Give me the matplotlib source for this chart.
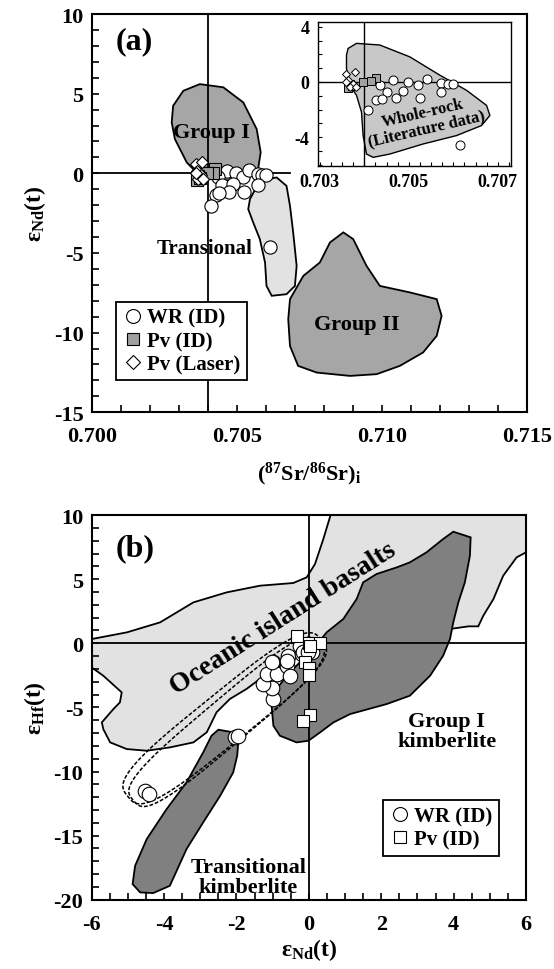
import numpy as np
import matplotlib
matplotlib.use("Agg")
import matplotlib.pyplot as plt
from matplotlib.lines import Line2D
from matplotlib.ticker import MultipleLocator, FormatStrFormatter

plt.rcParams['font.family'] = ['Liberation Serif', 'DejaVu Serif']
plt.rcParams['font.weight'] = 'bold'
plt.rcParams['axes.unicode_minus'] = False
plt.rcParams['mathtext.fontset'] = 'custom'
plt.rcParams['mathtext.rm'] = 'Liberation Serif:bold'
plt.rcParams['mathtext.it'] = 'Liberation Serif:bold'
plt.rcParams['mathtext.bf'] = 'Liberation Serif:bold'

# -----------------------------
# Panel (a): Sr-Nd data
# -----------------------------
sr_wr = [0.70465, 0.70498, 0.70521, 0.70540, 0.70573, 0.70588, 0.70600, 0.70435, 0.70450,
         0.70487, 0.70573, 0.70471, 0.70524, 0.70427, 0.70439, 0.70409, 0.70615]
nd_wr = [0.12, 0.00, -0.24, 0.20, -0.07, -0.12, -0.12, -0.24, -0.73,
         -0.68, -0.73, -1.17, -1.15, -1.34, -1.22, -2.07, -4.60]
sr_pv = [0.70426, 0.70416, 0.70397, 0.70367, 0.70364, 0.70372]
nd_pv = [0.27, 0.05, 0.00, -0.15, -0.45, -0.30]
sr_laser = [0.70360, 0.70378, 0.70364, 0.70375, 0.70367, 0.70382, 0.70360]
nd_laser = [0.61, 0.73, 0.12, -0.12, -0.37, -0.37, 0.00]

# field outlines (a)
grp1_sr = [0.70280, 0.70315, 0.70372, 0.70453, 0.70522, 0.70568, 0.70582, 0.70573, 0.70533,
           0.70453, 0.70372, 0.70327, 0.70286, 0.70275]
grp1_nd = [4.24, 5.18, 5.60, 5.40, 4.45, 2.78, 1.32, 0.28, -0.36, -0.47, -0.16, 0.68, 2.15, 3.20]
trans_sr = [0.70545, 0.70579, 0.70637, 0.70671, 0.70683, 0.70694, 0.70706, 0.70700, 0.70671,
            0.70620, 0.70602, 0.70597, 0.70579, 0.70556, 0.70539]
trans_nd = [-1.62, -0.47, -0.26, -0.79, -2.04, -3.71, -5.81, -7.07, -7.59, -7.69, -7.07, -5.60,
            -4.13, -3.08, -2.25]
grp2_sr = [0.70683, 0.70729, 0.70786, 0.70821, 0.70867, 0.70901, 0.70947, 0.70993, 0.71097,
           0.71189, 0.71206, 0.71189, 0.71142, 0.71062, 0.70982, 0.70890, 0.70775, 0.70711,
           0.70683, 0.70677]
grp2_nd = [-7.90, -6.44, -5.60, -4.34, -3.71, -4.13, -5.81, -7.07, -7.48, -7.90, -8.95, -10.21,
           -11.25, -12.09, -12.61, -12.72, -12.51, -12.09, -10.84, -9.16]
wrlit_sr = [0.703636, 0.703825, 0.704348, 0.705022, 0.705697, 0.706297, 0.706746, 0.706820,
            0.706634, 0.706072, 0.705321, 0.704573, 0.704198, 0.704049, 0.703973, 0.703937,
            0.703825, 0.703674, 0.703600, 0.703600]
wrlit_nd = [2.43, 2.80, 2.68, 1.82, 0.49, -0.61, -1.70, -2.43, -3.16, -3.89, -4.50, -5.23, -5.47,
            -5.23, -3.89, -2.19, -0.97, -0.24, 0.97, 1.95]

# -----------------------------
# Panel (b): Nd-Hf data
# -----------------------------
nd_wr_b = [-4.53, -4.43, -2.04, -1.95, -0.98, -1.03, -1.26, -1.17, -0.98, -0.89, -0.61, -0.52,
           -0.57, -0.24, -0.20, -0.15, 0.08, -0.01, -1.03, -0.61]
hf_wr_b = [-11.50, -11.76, -7.33, -7.20, -4.35, -3.50, -3.18, -2.40, -1.49, -2.39, -1.75, -2.53,
           -0.97, -0.19, -0.83, -0.71, -0.71, -0.70, -1.48, -1.36]
nd_pv_b = [-0.32, 0.01, 0.31, -0.11, 0.01, 0.01, 0.03, -0.15, 0.03]
hf_pv_b = [0.59, 0.02, 0.02, -1.48, -1.95, -2.45, -5.60, -6.05, -0.19]

oib_nd = [-6.00, -5.03, -4.11, -3.19, -2.27, -1.35, -0.43, -0.06, 0.17, 0.40, 0.60, 6.00, 6.00,
          5.74, 5.37, 5.10, 4.82, 4.68, 4.41, 3.25, 1.41, 0.12, -0.25, -0.52, -0.80, -1.35,
          -1.72, -2.18, -2.55, -2.82, -3.19, -3.84, -4.48, -5.03, -5.49, -5.68, -5.72, -5.40,
          -5.22, -5.17, -5.68, -6.00]
oib_hf = [0.33, 0.85, 1.63, 3.19, 3.97, 4.49, 4.70, 5.14, 6.18, 8.13, 10.00, 10.00, 7.09,
          6.70, 5.27, 3.45, 2.15, 1.32, 1.32, 0.85, 0.33, 0.02, -0.45, -1.10, -1.75, -2.78,
          -3.56, -4.34, -5.38, -6.94, -7.73, -8.12, -8.38, -8.25, -7.73, -6.69, -6.17, -5.13,
          -4.61, -3.83, -2.53, -1.88]
gk_nd = [-1.03, -0.98, -0.80, -0.34, -0.01, 0.31, 0.68, 1.14, 2.15, 2.79, 3.35, 3.71, 3.90,
         3.99, 4.13, 4.31, 4.45, 4.47, 3.99, 3.71, 3.25, 2.79, 2.43, 1.87, 1.50, 1.32, 0.95,
         0.49, 0.12, -0.25, -0.61, -0.89]
gk_hf = [-4.87, -6.43, -7.21, -7.73, -7.60, -6.95, -6.17, -5.52, -4.74, -4.09, -2.53, -0.97,
         0.33, 1.63, 3.19, 4.75, 6.83, 8.26, 8.70, 8.13, 7.09, 6.31, 5.92, 5.40, 4.75, 3.45,
         1.89, 0.85, -0.45, -1.49, -2.53, -3.57]
tk_nd = [-2.69, -2.50, -2.18, -1.95, -1.98, -2.09, -2.45, -2.92, -3.38, -3.84, -4.30, -4.66,
         -4.87, -4.80, -4.48, -3.93, -3.38, -2.92]
tk_hf = [-7.21, -6.74, -6.90, -7.73, -8.77, -10.07, -11.89, -13.97, -16.05, -18.91, -19.48,
         -19.43, -18.78, -17.35, -15.27, -12.93, -10.85, -8.51]

# dashed envelopes: tip-to-tip ends and half width
loop_ends = [((-5.00, -11.95), (0.35, 0.25), 1.95),
             ((-4.85, -12.25), (0.30, 0.00), 1.75)]

LIGHT = '#e2e2e2'
MID = '#a6a6a6'
DARK = '#808080'


def style_axis(ax, lw=1.5, size=16, xpad=8):
    for sp in ax.spines.values():
        sp.set_linewidth(lw)
    ax.tick_params(which='both', direction='in', top=False, right=False, width=1.2)
    ax.tick_params(which='major', length=5, labelsize=size, pad=6)
    ax.tick_params(axis='x', which='major', pad=xpad)
    ax.tick_params(which='minor', length=5)
    for lab in ax.get_xticklabels() + ax.get_yticklabels():
        lab.set_fontweight('bold')


def envelope(p1, p2, hw, s=2.82, p=0.6):
    # rounded-box loop drawn in a screen-like frame, then mapped back to data units
    x1, y1 = p1[0] * s, p1[1]
    x2, y2 = p2[0] * s, p2[1]
    cx, cy = (x1 + x2) / 2, (y1 + y2) / 2
    a = np.hypot(x2 - x1, y2 - y1) / 2
    ang = np.arctan2(y2 - y1, x2 - x1)
    t = np.linspace(0, 2 * np.pi, 400)
    ex = a * np.sign(np.cos(t)) * np.abs(np.cos(t)) ** p
    ey = hw * np.sign(np.sin(t)) * np.abs(np.sin(t)) ** p
    X = cx + ex * np.cos(ang) - ey * np.sin(ang)
    Y = cy + ex * np.sin(ang) + ey * np.cos(ang)
    return X / s, Y


fig = plt.figure(figsize=(5.54, 9.70), dpi=100)

# ---- panel (a)
ax1 = fig.add_axes([0.166, 0.574, 0.785, 0.4105])
ax1.fill(grp1_sr, grp1_nd, facecolor=MID, edgecolor='black', lw=1.3, zorder=1)
ax1.fill(trans_sr, trans_nd, facecolor=LIGHT, edgecolor='black', lw=1.3, zorder=1)
ax1.fill(grp2_sr, grp2_nd, facecolor=MID, edgecolor='black', lw=1.3, zorder=1)
ax1.axvline(0.704, color='black', lw=1.3, zorder=2)
ax1.axhline(0, xmax=0.455, color='black', lw=1.3, zorder=2)
ax1.plot(sr_wr, nd_wr, 'o', ms=9.5, mfc='white', mec='black', mew=0.8, zorder=4)
ax1.plot(sr_pv, nd_pv, 's', ms=8.5, mfc='#a0a0a0', mec='black', mew=0.8, zorder=5)
ax1.plot(sr_laser, nd_laser, 'D', ms=6.5, mfc='white', mec='black', mew=0.8, zorder=6)
ax1.set_xlim(0.700, 0.715)
ax1.set_ylim(-15, 10)
ax1.xaxis.set_major_locator(MultipleLocator(0.005))
ax1.xaxis.set_minor_locator(MultipleLocator(0.001))
ax1.yaxis.set_major_locator(MultipleLocator(5))
ax1.yaxis.set_minor_locator(MultipleLocator(1))
ax1.xaxis.set_major_formatter(FormatStrFormatter('%.3f'))
style_axis(ax1, xpad=10)
ax1.set_xlabel(r'$\mathrm{(^{87}Sr/^{86}Sr)_{i}}$', fontsize=16, labelpad=10)
ax1.set_ylabel(r'$\mathrm{ε_{Nd}(t)}$', fontsize=17, labelpad=4)
ax1.text(0.70145, 8.3, '(a)', fontsize=23, fontweight='bold', ha='center', va='center')
ax1.text(0.70413, 2.57, 'Group I', fontsize=16, fontweight='bold', ha='center', va='center')
ax1.text(0.70390, -4.66, 'Transional', fontsize=15, fontweight='bold', ha='center', va='center')
ax1.text(0.70913, -9.47, 'Group II', fontsize=16, fontweight='bold', ha='center', va='center')
h_a = [Line2D([], [], marker='o', ls='', ms=10, mfc='white', mec='black', mew=0.8),
       Line2D([], [], marker='s', ls='', ms=9, mfc='#a0a0a0', mec='black', mew=0.8),
       Line2D([], [], marker='D', ls='', ms=7, mfc='white', mec='black', mew=0.8)]
leg = ax1.legend(h_a, ['WR (ID)', 'Pv (ID)', 'Pv (Laser)'], loc='lower left',
                 bbox_to_anchor=(0.055, 0.08), fancybox=False, framealpha=1, edgecolor='black',
                 prop={'family': 'Liberation Serif', 'weight': 'bold', 'size': 15},
                 handletextpad=0.2, handlelength=1.0, borderpad=0.3, labelspacing=0.15,
                 borderaxespad=0)
leg.get_frame().set_linewidth(1.3)

# ---- inset
axi = fig.add_axes([0.574, 0.8278, 0.348, 0.1485])
axi.fill(wrlit_sr, wrlit_nd, facecolor='#c8c8c8', edgecolor='black', lw=1.0, zorder=1)
axi.axvline(0.704, color='black', lw=1.0, zorder=2)
axi.axhline(0, color='black', lw=1.0, zorder=2)
axi.plot(sr_wr, nd_wr, 'o', ms=6.5, mfc='white', mec='black', mew=0.7, zorder=4)
axi.plot(sr_pv, nd_pv, 's', ms=5.5, mfc='#a0a0a0', mec='black', mew=0.7, zorder=5)
axi.plot(sr_laser, nd_laser, 'D', ms=4.5, mfc='white', mec='black', mew=0.7, zorder=6)
axi.set_xlim(0.70296, 0.70729)
axi.set_ylim(-6.1, 4.35)
axi.set_xticks([0.703, 0.705, 0.707])
axi.xaxis.set_minor_locator(MultipleLocator(0.00025))
axi.set_yticks([-4, 0, 4])
axi.yaxis.set_minor_locator(MultipleLocator(1))
axi.xaxis.set_major_formatter(FormatStrFormatter('%.3f'))
style_axis(axi, lw=1.0, size=13, xpad=5)
axi.tick_params(which='both', length=3, width=0.8)
axi.text(0.70536, -2.8, 'Whole-rock\n(Literature data)', fontsize=12, fontweight='bold',
         ha='center', va='center', rotation=13, linespacing=1.0)

# ---- panel (b)
ax2 = fig.add_axes([0.1655, 0.0714, 0.784, 0.3966])
ax2.fill(oib_nd, oib_hf, facecolor=LIGHT, edgecolor='black', lw=1.3, zorder=1)
ax2.fill(gk_nd, gk_hf, facecolor=DARK, edgecolor='black', lw=1.3, zorder=1.5)
ax2.fill(tk_nd, tk_hf, facecolor=DARK, edgecolor='black', lw=1.3, zorder=1.5)
ax2.axvline(0, color='black', lw=1.3, zorder=2)
ax2.axhline(0, color='black', lw=1.3, zorder=2)
for p1, p2, hw in loop_ends:
    ex, ey = envelope(p1, p2, hw)
    ax2.plot(ex, ey, color='black', ls=(0, (2.5, 1.2)), lw=1.1, zorder=3)
ax2.plot(nd_wr_b, hf_wr_b, 'o', ms=10.5, mfc='white', mec='black', mew=0.8, zorder=4)
ax2.plot(nd_pv_b, hf_pv_b, 's', ms=9, mfc='white', mec='black', mew=0.8, zorder=5)
ax2.set_xlim(-6, 6)
ax2.set_ylim(-20, 10)
ax2.xaxis.set_major_locator(MultipleLocator(2))
ax2.xaxis.set_minor_locator(MultipleLocator(0.5))
ax2.yaxis.set_major_locator(MultipleLocator(5))
ax2.yaxis.set_minor_locator(MultipleLocator(1))
style_axis(ax2, xpad=10)
ax2.set_xlabel(r'$\mathrm{ε_{Nd}(t)}$', fontsize=17, labelpad=2)
ax2.set_ylabel(r'$\mathrm{ε_{Hf}(t)}$', fontsize=17, labelpad=4)
ax2.text(-4.80, 7.48, '(b)', fontsize=23, fontweight='bold', ha='center', va='center')
ax2.text(-0.70, 1.95, 'Oceanic island basalts', fontsize=20, fontweight='bold',
         ha='center', va='center', rotation=32.5)
ax2.text(3.81, -6.81, 'Group I\nkimberlite', fontsize=16, fontweight='bold',
         ha='center', va='center', linespacing=1.0)
ax2.text(-1.67, -18.2, 'Transitional\nkimberlite', fontsize=16, fontweight='bold',
         ha='center', va='center', linespacing=1.0)
h_b = [Line2D([], [], marker='o', ls='', ms=10, mfc='white', mec='black', mew=0.8),
       Line2D([], [], marker='s', ls='', ms=9, mfc='white', mec='black', mew=0.8)]
leg2 = ax2.legend(h_b, ['WR (ID)', 'Pv (ID)'], loc='lower left', bbox_to_anchor=(0.671, 0.114),
                  fancybox=False, framealpha=1, edgecolor='black',
                  prop={'family': 'Liberation Serif', 'weight': 'bold', 'size': 15},
                  handletextpad=0.2, handlelength=1.0, borderpad=0.3, labelspacing=0.15,
                  borderaxespad=0)
leg2.get_frame().set_linewidth(1.3)

fig.savefig('out.png', dpi=100)
